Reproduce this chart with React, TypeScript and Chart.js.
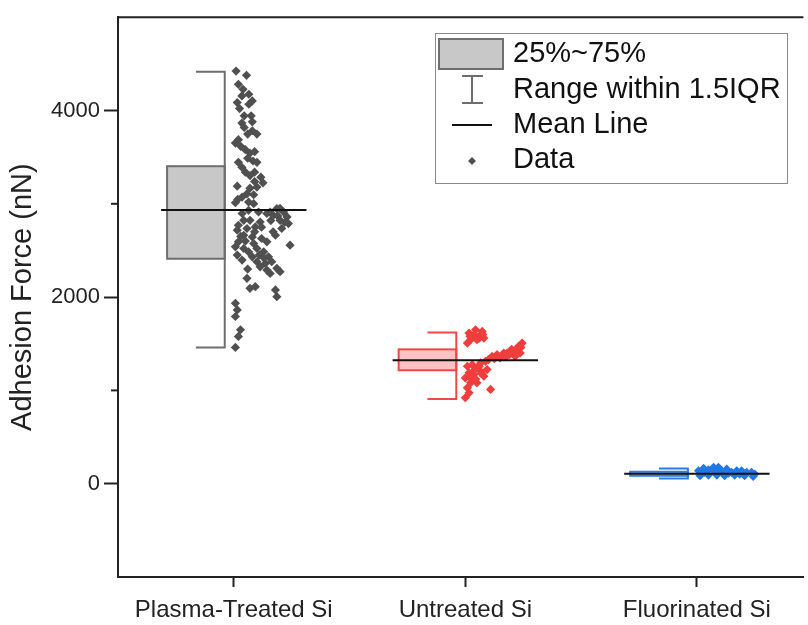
import React, { useEffect, useRef } from "react";
import { Chart, registerables } from "chart.js";

Chart.register(...registerables);

// ---------------- data ----------------
const categories = ["Plasma-Treated Si", "Untreated Si", "Fluorinated Si"];
const categoryPositions = [1, 2, 3];
const q1Values = [2411, 1216, 85];
const q3Values = [3403, 1440, 128];
const whiskerLow = [1461, 907, 56];
const whiskerHigh = [4416, 1621, 163];
const meanValues = [2933, 1323, 107];
const yMajorTicks = [0, 2000, 4000];
const yMinorTicks = [1000, 3000];
const yRange = [-1000, 5000];

// [jitter offset from category, adhesion force (nN)]
const plasmaPoints: [number, number][] = [
  [0.01, 4423], [0.055, 4377], [0.02, 4281], [0.04, 4227], [0.065, 4174], [0.035, 4156],
  [0.08, 4103], [0.065, 4067], [0.015, 4085], [0.025, 4021], [0.045, 3943], [0.075, 3943],
  [0.08, 3879], [0.035, 3865], [0.045, 3819], [0.08, 3783], [0.1, 3747], [0.06, 3747],
  [0.02, 3687], [0.007, 3651], [0.03, 3616], [0.05, 3580], [0.07, 3544], [0.09, 3559],
  [0.06, 3488], [0.083, 3459], [0.02, 3445], [0.035, 3392], [0.05, 3339], [0.07, 3303],
  [0.1, 3445], [0.09, 3339], [0.117, 3285], [0.126, 3225], [0.09, 3239], [0.07, 3168],
  [0.1, 3179], [0.015, 3189], [0.057, 3107], [0.086, 3097], [0.036, 3072], [0.017, 3047],
  [0.007, 3011], [0.064, 3019], [0.086, 3001], [0.036, 2896], [0.064, 2930], [0.107, 2912],
  [0.143, 2896], [0.186, 2948], [0.215, 2912], [0.17, 2877], [0.236, 2788], [0.207, 2735],
  [0.23, 2859], [0.02, 2770], [0.015, 2717], [0.057, 2735], [0.093, 2752], [0.114, 2805],
  [0.07, 2823], [0.043, 2663], [0.08, 2645], [0.143, 2592], [0.18, 2663], [0.243, 2557],
  [0.007, 2539], [0.015, 2450], [0.036, 2397], [0.064, 2485], [0.08, 2432], [0.1, 2379],
  [0.114, 2325], [0.136, 2361], [0.143, 2290], [0.157, 2254], [0.186, 2308], [0.2, 2272],
  [0.164, 2379], [0.129, 2485], [0.057, 2201], [0.07, 2094], [0.093, 2112], [0.18, 2077],
  [0.186, 2005], [0.007, 1934], [0.015, 1863], [0.007, 1792], [0.029, 1650], [0.02, 1579],
  [0.007, 1461], [0.043, 2823], [0.02, 2592], [0.1, 2521], [0.12, 2628], [0.157, 2912],
  [0.2, 2823], [0.043, 2521], [0.086, 2574], [0.15, 2432], [0.05, 2600], [0.09, 2700],
  [0.12, 2750], [0.16, 2820], [0.19, 2870], [0.22, 2800], [0.11, 2450], [0.13, 2420],
  [0.06, 2300], [0.03, 2650], [0.17, 2700], [0.2, 2950],
];

const untreatedPoints: [number, number][] = [
  [0.016, 1614], [0.044, 1650], [0.073, 1632], [0.08, 1561], [0.05, 1543], [0.023, 1543],
  [0.009, 1507], [0.03, 1579], [0.066, 1596], [0.116, 1365], [0.137, 1383], [0.166, 1401],
  [0.19, 1383], [0.21, 1419], [0.23, 1472], [0.245, 1507], [0.237, 1401], [0.215, 1365],
  [0.15, 1348], [0.087, 1312], [0.066, 1294], [0.1, 1330], [0.009, 1259], [0.03, 1276],
  [0.05, 1241], [0.016, 1188], [0.037, 1170], [0.066, 1205], [0.0, 1134], [0.023, 1081],
  [0.05, 1081], [0.009, 1028], [0.03, 1117], [0.08, 1152], [0.109, 1010], [0.0, 921],
  [0.016, 974], [0.094, 1223], [0.175, 1360], [0.125, 1340], [0.2, 1440],
  [0.04, 1600], [0.06, 1560], [0.02, 1580], [0.075, 1600], [0.13, 1360], [0.16, 1370],
  [0.22, 1440], [0.24, 1460], [0.18, 1400], [0.04, 1220], [0.06, 1260], [0.02, 1150],
  [0.045, 1120], [0.07, 1180],
];

const fluorinatedPoints: [number, number][] = [
  [0.007, 139], [0.029, 164], [0.05, 149], [0.072, 174], [0.093, 175], [0.107, 139],
  [0.129, 156], [0.15, 121], [0.172, 139], [0.193, 139], [0.215, 121], [0.236, 121],
  [0.25, 103], [0.014, 85], [0.05, 92], [0.086, 92], [0.12, 85], [0.163, 92],
  [0.206, 85], [0.243, 78], [0.034, 121], [0.077, 128], [0.137, 114], [0.185, 103],
];

const seriesPoints = [plasmaPoints, untreatedPoints, fluorinatedPoints];

// ---------------- styles ----------------
const pointColors = ["#505050", "#f23d3d", "#2178e4"];
const boxFills = ["#c8c8c8", "#ffc2c2", "#bcd6f7"];
const boxStrokes = ["#6e6e6e", "#f04848", "#2a7de2"];
const FONT = "'Liberation Sans', Arial, Helvetica, sans-serif";
const AXIS_COLOR = "#222222";

const BOX_LEFT = -0.288;
const BOX_RIGHT = -0.039;
const MEAN_HALF = 0.314;

const boxPlugin = {
  id: "boxWhisker",
  beforeDatasetsDraw(chart: any) {
    const { ctx, scales } = chart;
    const x = scales.x;
    const y = scales.y;
    categoryPositions.forEach((c, i) => {
      const left = x.getPixelForValue(c + BOX_LEFT);
      const right = x.getPixelForValue(c + BOX_RIGHT);
      const mid = (left + right) / 2;
      const top = y.getPixelForValue(q3Values[i]);
      const bottom = y.getPixelForValue(q1Values[i]);
      ctx.save();
      ctx.fillStyle = boxFills[i];
      ctx.fillRect(left, top, right - left, bottom - top);
      ctx.strokeStyle = boxStrokes[i];
      ctx.lineWidth = 2;
      ctx.strokeRect(left, top, right - left, bottom - top);
      const wt = y.getPixelForValue(whiskerHigh[i]);
      const wb = y.getPixelForValue(whiskerLow[i]);
      ctx.beginPath();
      ctx.moveTo(mid, wt);
      ctx.lineTo(right, wt);
      ctx.lineTo(right, wb);
      ctx.lineTo(mid, wb);
      ctx.stroke();
      ctx.restore();
    });
  },
};

const framePlugin = {
  id: "frameAndLegend",
  afterDraw(chart: any) {
    const { ctx, chartArea, scales } = chart;
    const y = scales.y;
    ctx.save();
    // top frame line
    ctx.strokeStyle = AXIS_COLOR;
    ctx.lineWidth = 2;
    ctx.beginPath();
    ctx.moveTo(chartArea.left, chartArea.top);
    ctx.lineTo(chartArea.right, chartArea.top);
    ctx.stroke();
    // minor ticks
    yMinorTicks.forEach((v) => {
      const py = y.getPixelForValue(v);
      ctx.beginPath();
      ctx.moveTo(chartArea.left - 7, py);
      ctx.lineTo(chartArea.left, py);
      ctx.stroke();
    });

    // legend
    const lx = 435;
    const ly = 33;
    ctx.fillStyle = "#ffffff";
    ctx.fillRect(lx, ly, 352, 150);
    ctx.strokeStyle = "#8a8a8a";
    ctx.lineWidth = 1;
    ctx.strokeRect(lx + 0.5, ly + 0.5, 352, 150);

    // box swatch
    ctx.fillStyle = boxFills[0];
    ctx.fillRect(439, 39, 64, 30);
    ctx.strokeStyle = boxStrokes[0];
    ctx.lineWidth = 2;
    ctx.strokeRect(439, 39, 64, 30);

    // whisker icon
    ctx.beginPath();
    ctx.moveTo(462, 76);
    ctx.lineTo(483, 76);
    ctx.moveTo(472, 76);
    ctx.lineTo(472, 103);
    ctx.moveTo(462, 103);
    ctx.lineTo(483, 103);
    ctx.stroke();

    // mean line icon
    ctx.strokeStyle = "#111111";
    ctx.beginPath();
    ctx.moveTo(452, 125);
    ctx.lineTo(492, 125);
    ctx.stroke();

    // data icon
    ctx.fillStyle = pointColors[0];
    ctx.beginPath();
    ctx.moveTo(472, 157);
    ctx.lineTo(476, 161);
    ctx.lineTo(472, 165);
    ctx.lineTo(468, 161);
    ctx.closePath();
    ctx.fill();

    ctx.fillStyle = "#111111";
    ctx.font = `29px ${FONT}`;
    ctx.textBaseline = "middle";
    ctx.textAlign = "left";
    ctx.fillText("25%~75%", 513, 54);
    ctx.fillText("Range within 1.5IQR", 513, 90);
    ctx.fillText("Mean Line", 513, 125);
    ctx.fillText("Data", 513, 160);
    ctx.restore();
  },
};

export default function App() {
  const ref = useRef<HTMLCanvasElement | null>(null);

  useEffect(() => {
    if (!ref.current) return;
    const scatterSets = seriesPoints.map((pts, i) => ({
      type: "scatter" as const,
      label: categories[i] + " data",
      data: pts.map(([off, v]) => ({ x: categoryPositions[i] + off, y: v })),
      pointStyle: "rectRot",
      pointRadius: 4.6,
      pointHoverRadius: 4.6,
      pointBorderWidth: 0,
      backgroundColor: pointColors[i],
      borderColor: pointColors[i],
      order: 2,
    }));
    const meanSets = meanValues.map((m, i) => ({
      type: "line" as const,
      label: categories[i] + " mean",
      data: [
        { x: categoryPositions[i] - MEAN_HALF, y: m },
        { x: categoryPositions[i] + MEAN_HALF, y: m },
      ],
      borderColor: "#111111",
      borderWidth: 2,
      pointRadius: 0,
      fill: false,
      order: 1,
    }));

    const chart = new Chart(ref.current, {
      type: "scatter",
      data: { datasets: [...meanSets, ...scatterSets] as any },
      options: {
        animation: false,
        responsive: false,
        devicePixelRatio: 1,
        layout: { padding: { top: 12, left: 0, right: 0, bottom: 0 } },
        plugins: { legend: { display: false }, tooltip: { enabled: false } },
        scales: {
          x: {
            type: "linear",
            min: 0.5,
            max: 3.46,
            afterBuildTicks: (s: any) => {
              s.ticks = categoryPositions.map((v) => ({ value: v }));
            },
            afterFit: (s: any) => {
              s.height = 48;
            },
            ticks: {
              autoSkip: false,
              maxRotation: 0,
              padding: 9,
              color: AXIS_COLOR,
              font: { family: FONT, size: 24 },
              callback: (_v: any, idx: number) => categories[idx],
            },
            grid: {
              drawOnChartArea: false,
              tickLength: 10,
              tickWidth: 2,
              tickColor: AXIS_COLOR,
            },
            border: { display: true, color: AXIS_COLOR, width: 2 },
          },
          y: {
            type: "linear",
            min: yRange[0],
            max: yRange[1],
            afterBuildTicks: (s: any) => {
              s.ticks = yMajorTicks.map((v) => ({ value: v }));
            },
            afterFit: (s: any) => {
              s.width = 118;
            },
            ticks: {
              padding: 4,
              color: AXIS_COLOR,
              font: { family: FONT, size: 22 },
              callback: (v: any) => String(v),
            },
            grid: {
              drawOnChartArea: false,
              tickLength: 14,
              tickWidth: 2,
              tickColor: AXIS_COLOR,
            },
            border: { display: true, color: AXIS_COLOR, width: 2 },
            title: {
              display: true,
              text: "Adhesion Force (nN)",
              color: AXIS_COLOR,
              font: { family: FONT, size: 29 },
              padding: { top: 6, bottom: 0 },
            },
          },
        },
      },
      plugins: [boxPlugin, framePlugin],
    } as any);
    return () => chart.destroy();
  }, []);

  return (
    <div style={{ position: "fixed", left: 0, top: 0, width: 808, height: 625, background: "#ffffff" }}>
      <canvas ref={ref} width={808} height={625} style={{ display: "block", width: 808, height: 625 }} />
    </div>
  );
}
